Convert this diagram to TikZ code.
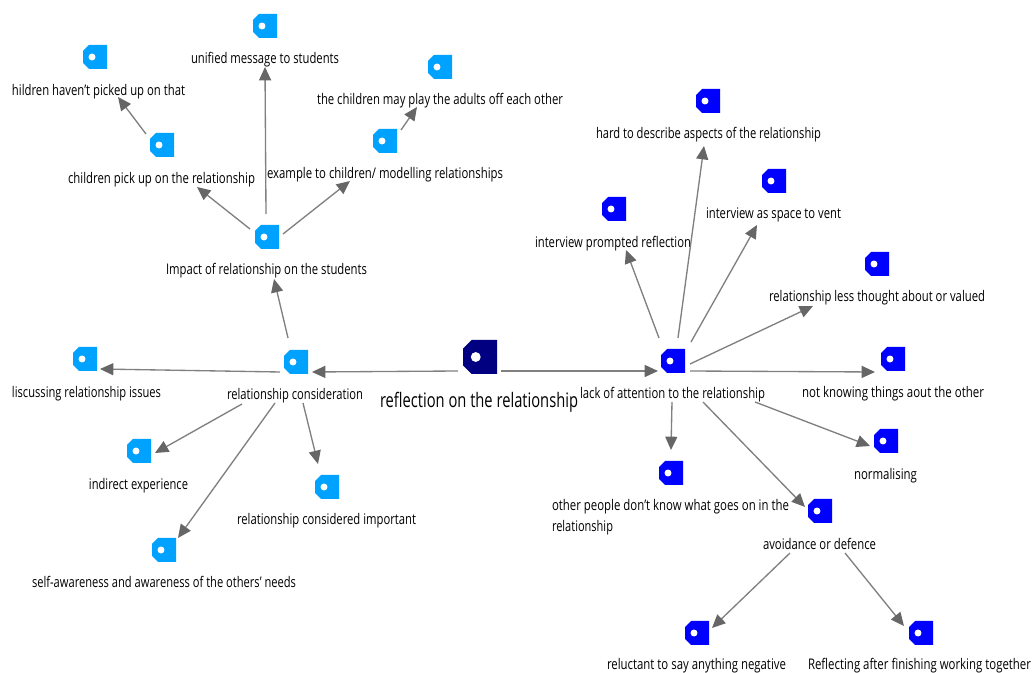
\documentclass[tikz,border=0pt]{standalone}
\usepackage{graphicx}
\usepackage{fontspec}
\setmainfont{Open Sans}
\usetikzlibrary{calc,arrows.meta}
\definecolor{tagsky}{RGB}{0,162,255}
\definecolor{tagblue}{RGB}{0,0,255}
\definecolor{tagnavy}{RGB}{0,0,128}
\definecolor{linkgrey}{RGB}{128,128,128}
\definecolor{headgrey}{RGB}{102,102,102}
\tikzset{
  x=0.75pt,y=-0.75pt,
  tagbox/.style={inner sep=0pt,outer sep=0pt,minimum size=#1*0.75pt},
  lbl/.style={inner sep=0pt,outer sep=0pt,anchor=base west,text=black,font=\fontsize{11pt}{13pt}\selectfont},
  biglbl/.style={lbl,font=\fontsize{15pt}{18pt}\selectfont},
  linkline/.style={draw=linkgrey,line width=1pt,-{Triangle[length=10pt,width=9pt,color=headgrey]}}
}
% name, x, y, half size, colour
\newcommand\tagmark[5]{%
  \node[tagbox=2*#4] (#1) at (#2,#3) {};
  \begin{scope}[shift={(#2,#3)}]
    \fill[#5] (-#4,-#4/2) -- (-#4/2,-#4) -- (#4,-#4) -- (#4,#4) -- (-#4/2,#4) -- (-#4,#4/2) -- cycle;
    \fill[white] (-#4*0.25,0) circle[radius=#4*0.29];
  \end{scope}}
% name, left, right, centre y, text
\newcommand\labelat[6][lbl]{%
  \pgfmathsetmacro\labw{(#4-#3)*0.75}%
  \node[#1] (#2) at (#3,#5+5.6) {\resizebox{\labw pt}{\height}{#6}};}
% from, dx, dy, to, dx, dy
\newcommand\linkup[6]{\draw[linkline] ($(#1)+(#2,#3)$) -- ($(#4)+(#5,#6)$);}
\begin{document}
\begin{tikzpicture}
\useasboundingbox (0,0) rectangle (1033,673);
\fill[white] (0,0) rectangle (1033,673);

\tagmark{hub}{480}{357}{17}{tagnavy}
\tagmark{lack}{673}{361}{12}{tagblue}
\tagmark{cons}{296}{362}{12}{tagsky}
\tagmark{impact}{267}{237}{12}{tagsky}
\tagmark{pick}{162}{145}{12}{tagsky}
\tagmark{havent}{95}{57}{12}{tagsky}
\tagmark{unified}{265}{26}{12}{tagsky}
\tagmark{example}{385}{141}{12}{tagsky}
\tagmark{play}{440}{67}{12}{tagsky}
\tagmark{discuss}{85}{359}{12}{tagsky}
\tagmark{indirect}{139}{451}{12}{tagsky}
\tagmark{important}{327}{487}{12}{tagsky}
\tagmark{selfaw}{164}{550}{12}{tagsky}
\tagmark{hard}{708}{101}{12}{tagblue}
\tagmark{vent}{774}{181}{12}{tagblue}
\tagmark{prompted}{614}{209}{12}{tagblue}
\tagmark{less}{877}{264}{12}{tagblue}
\tagmark{notknow}{893}{359}{12}{tagblue}
\tagmark{normal}{886}{441}{12}{tagblue}
\tagmark{others}{671}{473}{12}{tagblue}
\tagmark{avoid}{820}{511}{12}{tagblue}
\tagmark{reluct}{697}{633}{12}{tagblue}
\tagmark{reflect}{921}{633}{12}{tagblue}

\labelat[biglbl]{lhub}{380}{578}{402}{reflection on the relationship}
\labelat{llack}{580}{765}{393}{lack of attention to the relationship}
\labelat{lcons}{227}{363}{394}{relationship consideration}
\labelat{limpact}{166}{367}{269}{Impact of relationship on the students}
\labelat{lpick}{68}{255}{178}{children pick up on the relationship}
\labelat{lhavent}{12}{185}{90}{hildren haven't picked up on that}
\labelat{lunified}{191}{339}{58}{unified message to students}
\labelat{lplay}{317}{563}{99}{the children may play the adults off each other}
\labelat{lexample}{267}{503}{173}{example to children/ modelling relationships}
\labelat{ldiscuss}{12}{161}{392}{liscussing relationship issues}
\labelat{lindirect}{89}{188}{484}{indirect experience}
\labelat{limportant}{237}{416}{519}{relationship considered important}
\labelat{lselfaw}{32}{296}{582}{self-awareness and awareness of the others' needs}
\labelat{lhard}{596}{821}{133}{hard to describe aspects of the relationship}
\labelat{lvent}{706}{841}{213}{interview as space to vent}
\labelat{lprompted}{535}{691}{242}{interview prompted reflection}
\labelat{lless}{769}{985}{296}{relationship less thought about or valued}
\labelat{lnotknow}{802}{984}{392}{not knowing things aout the other}
\labelat{lnormal}{854}{917}{474}{normalising}
\labelat{lothers}{552}{789}{505}{other people don't know what goes on in the}
\labelat{lothersb}{552}{613}{526}{relationship}
\labelat{lavoid}{763}{876}{544}{avoidance or defence}
\labelat{lreluct}{607}{786}{663.5}{reluctant to say anything negative}
\labelat{lreflect}{808}{1031}{663.5}{Reflecting after finishing working together}

\linkup{hub}{-22}{14}{cons}{16}{10}
\linkup{hub}{21}{14}{lack}{-15}{10}
\linkup{cons}{-8}{-24}{impact}{7}{42}
\linkup{cons}{-16}{10}{discuss}{15}{10}
\linkup{cons}{-54}{42}{indirect}{16}{2}
\linkup{cons}{7}{41}{important}{-9}{-23}
\linkup{cons}{-21}{41}{selfaw}{14}{-12}
\linkup{impact}{-17}{-8}{pick}{35}{42}
\linkup{impact}{-1}{-23}{unified}{0}{41}
\linkup{impact}{16}{-3}{example}{-35}{40}
\linkup{pick}{-16}{-11}{havent}{23}{40}
\linkup{example}{16}{-11}{play}{-23}{40}
\linkup{lack}{-14}{-23}{prompted}{12}{41}
\linkup{lack}{5}{-23}{hard}{-4}{45}
\linkup{lack}{18}{-19}{vent}{-17}{44}
\linkup{lack}{17}{3}{less}{-64}{42}
\linkup{lack}{17}{10}{notknow}{-18}{13}
\linkup{lack}{82}{41}{normal}{-16}{5}
\linkup{lack}{-1}{41}{others}{0}{-23}
\linkup{lack}{30}{41}{avoid}{-15}{-4}
\linkup{avoid}{-30}{42}{reluct}{15}{-5}
\linkup{avoid}{25}{42}{reflect}{-17}{-7}
\end{tikzpicture}
\end{document}
